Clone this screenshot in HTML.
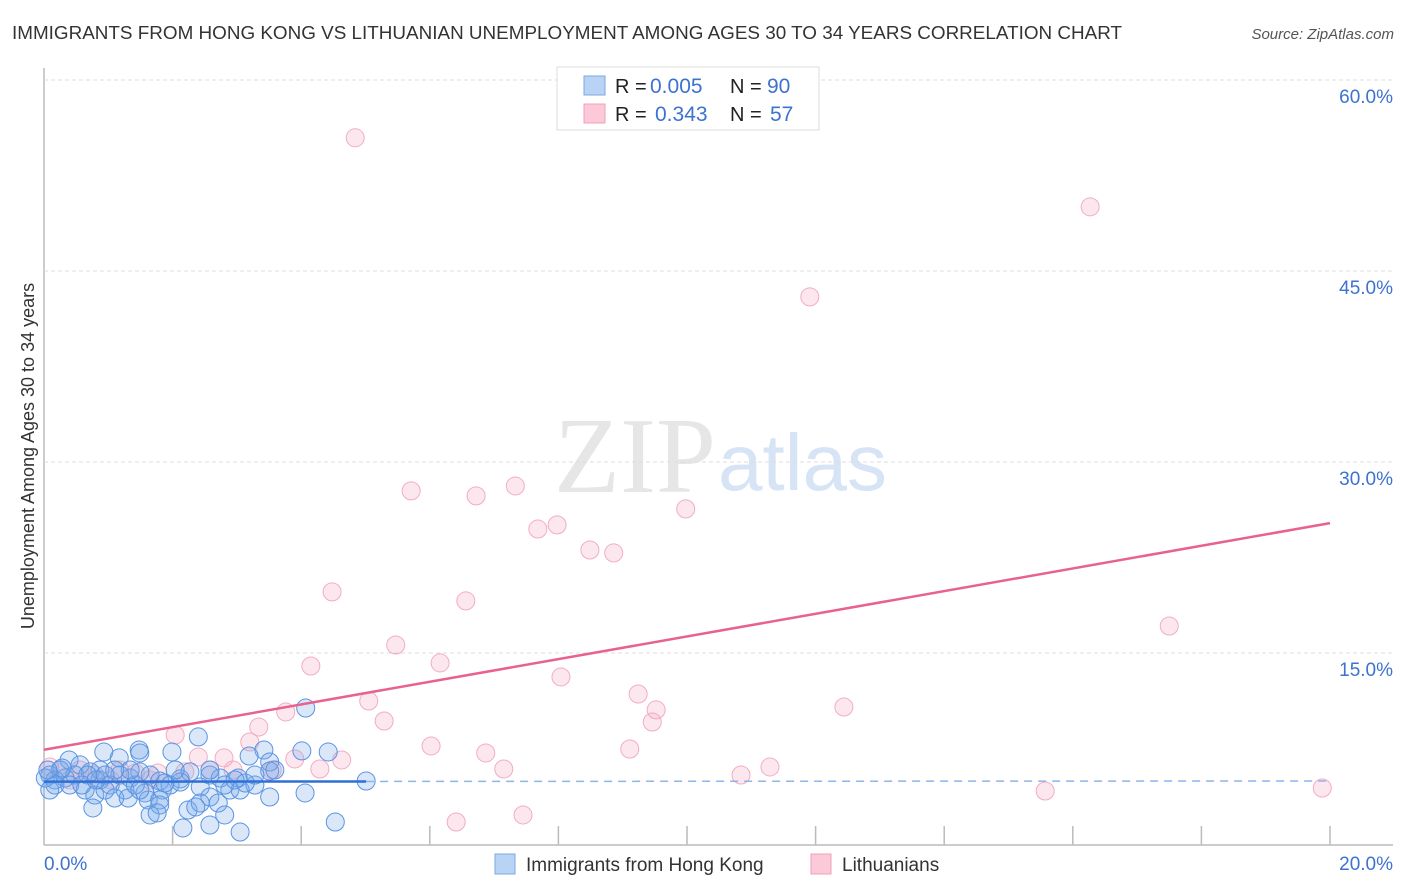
<!DOCTYPE html>
<html><head><meta charset="utf-8"><style>
body{margin:0;background:#fff;font-family:"Liberation Sans",sans-serif}
#c{position:absolute;left:0;top:0}
</style></head><body>
<svg id="c" width="1406" height="892" xmlns="http://www.w3.org/2000/svg">
<text x="12" y="39" font-size="18" fill="#333" textLength="1110" lengthAdjust="spacingAndGlyphs">IMMIGRANTS FROM HONG KONG VS LITHUANIAN UNEMPLOYMENT AMONG AGES 30 TO 34 YEARS CORRELATION CHART</text>
<text x="1394" y="39" font-size="15" fill="#555" text-anchor="end" font-style="italic">Source: ZipAtlas.com</text>
<text x="716" y="492" font-size="108" fill="#e6e6e6" text-anchor="end" font-family="Liberation Serif,serif">ZIP</text>
<text x="718" y="490" font-size="80" fill="#d6e4f5">atlas</text>
<g id="grid"></g>
<g id="pts"></g>
<g id="lines"></g>
<text transform="translate(34,456) rotate(-90)" font-size="18" fill="#333" text-anchor="middle">Unemployment Among Ages 30 to 34 years</text>
<text x="44" y="870" font-size="19" fill="#3d72d0">0.0%</text>
<text x="1393" y="870" font-size="19" fill="#3d72d0" text-anchor="end">20.0%</text>
<g>
<rect x="557" y="67" width="262" height="63" fill="#fff" stroke="#ddd"/>
<rect x="584" y="76" width="21" height="19" fill="#b8d3f4" stroke="#7aa8e4"/>
<rect x="584" y="104" width="21" height="19" fill="#fbc9d8" stroke="#f0a0b8"/>
<text x="615" y="93" font-size="20" fill="#222">R =</text>
<text x="650" y="93" font-size="21" fill="#3d72d0">0.005</text>
<text x="730" y="93" font-size="20" fill="#222">N =</text>
<text x="767" y="93" font-size="21" fill="#3d72d0">90</text>
<text x="615" y="121" font-size="20" fill="#222">R =</text>
<text x="655" y="121" font-size="21" fill="#3d72d0">0.343</text>
<text x="730" y="121" font-size="20" fill="#222">N =</text>
<text x="770" y="121" font-size="21" fill="#3d72d0">57</text>
</g>
<g>
<rect x="495" y="854" width="20" height="20" fill="#b8d3f4" stroke="#7aa8e4"/>
<text x="526" y="871" font-size="19" fill="#333">Immigrants from Hong Kong</text>
<rect x="811" y="854" width="20" height="20" fill="#fbc9d8" stroke="#f0a0b8"/>
<text x="842" y="871" font-size="19" fill="#333">Lithuanians</text>
</g>
</svg>
<script>
const yTicks=[15,30,45,60];
const xTickVals=[2,4,6,8,10,12,14,16,18,20];
const pinkX=[4.84,16.27,11.91,5.71,6.72,7.33,9.98,7.68,7.98,8.49,8.86,4.48,6.56,17.50,5.47,6.16,4.15,8.04,9.24,5.05,9.52,9.46,12.44,5.29,3.76,3.34,6.02,6.87,9.11,2.04,3.20,2.40,2.80,3.90,4.29,4.63,7.15,11.29,10.84,15.57,19.88,6.41,7.45,2.94,1.77,1.42,0.79,0.25,0.09,0.40,1.03,2.19,2.58,3.55,1.65,1.18,0.56];
const pinkY=[55.46,50.04,42.97,27.73,27.34,28.12,26.32,24.74,25.06,23.09,22.86,19.80,19.09,17.12,15.63,14.22,13.98,13.12,11.78,11.23,10.53,9.58,10.76,9.66,10.37,9.19,7.70,7.15,7.46,8.56,8.01,6.83,6.76,6.68,5.89,6.60,5.89,6.05,5.42,4.16,4.40,1.73,2.28,5.81,5.58,5.58,5.42,5.81,6.05,5.03,5.03,5.66,5.81,5.81,5.03,5.81,5.81];
const blueX=[4.07,2.40,3.42,1.48,0.93,1.99,4.01,4.42,1.49,3.19,3.51,0.39,1.17,0.56,0.25,0.09,0.17,0.02,0.33,0.48,0.72,0.87,1.03,1.34,1.65,1.80,2.12,2.27,2.58,2.74,3.02,2.89,3.05,3.28,3.51,5.01,0.64,0.79,0.95,1.26,1.10,1.31,1.57,1.84,1.96,2.43,2.81,3.13,0.17,0.76,1.62,1.80,1.80,2.24,2.43,2.58,2.71,3.51,4.06,2.12,1.18,1.42,0.40,1.88,1.65,1.76,2.16,2.58,3.05,4.53,2.81,2.36,2.97,1.49,0.87,2.04,1.34,1.10,0.68,0.28,0.06,2.58,3.28,3.59,0.59,0.81,1.49,0.95,0.09];
const blueY=[10.68,8.41,7.38,7.38,7.23,7.23,7.31,7.23,7.15,6.91,6.44,6.60,6.76,6.21,5.81,5.42,5.03,5.18,5.18,5.42,5.66,5.03,4.63,5.18,5.42,4.95,5.11,5.66,5.42,5.18,5.18,4.24,4.24,4.63,5.73,4.95,4.24,3.85,4.24,4.24,3.61,3.61,4.01,4.24,4.63,4.48,4.63,4.79,4.63,2.83,3.46,3.46,3.06,2.67,3.22,3.69,3.22,3.69,4.01,4.87,5.42,4.63,4.63,4.79,2.28,2.44,1.26,1.49,0.94,1.73,2.28,2.91,5.03,5.66,5.81,5.81,5.81,5.81,5.42,5.97,5.81,5.81,5.42,5.81,4.63,5.03,4.24,5.42,4.24];
const pinkFit=[7.4,25.2];
const blueFit=[4.9,4.95];
const X=v=>44+v*(1286/20), Y=v=>844-v*(191/15);
const NS='http://www.w3.org/2000/svg';
function mk(t,a,p){const e=document.createElementNS(NS,t);for(const k in a)e.setAttribute(k,a[k]);p.appendChild(e);return e;}
const g=document.getElementById('grid');
let ax=mk('line',{x1:44,y1:68,x2:44,y2:845,stroke:'#bbb','stroke-width':1.5},g);


let bx=mk('line',{x1:44,y1:845,x2:1393,y2:845,stroke:'#bbb','stroke-width':1.5},g);


yTicks.forEach(v=>{
 const l=mk('line',{x1:44,y1:Y(v),x2:1393,y2:Y(v),stroke:'#ddd','stroke-dasharray':'4,3'},g);
 
 
 const t=mk('text',{x:1393,y:Y(v)+23,'font-size':19,fill:'#3d72d0','text-anchor':'end'},g);
 t.textContent=v.toFixed(1)+'%';
 
 
});
xTickVals.forEach(v=>{
 const l=mk('line',{x1:X(v),y1:826,x2:X(v),y2:845,stroke:'#bbb','stroke-width':1.5},g);
 
 
});
const p=document.getElementById('pts');
pinkX.forEach((x,i)=>{
 const c=mk('circle',{cx:X(x),cy:Y(pinkY[i]),r:9,fill:'rgba(245,160,190,0.25)',stroke:'#f2adc2','stroke-width':1},p);
 
 
});
blueX.forEach((x,i)=>{
 const c=mk('circle',{cx:X(x),cy:Y(blueY[i]),r:9,fill:'rgba(120,170,235,0.28)',stroke:'#5a94e2','stroke-width':1},p);
 
 
});
const L=document.getElementById('lines');
const pl=mk('line',{x1:X(0),y1:Y(pinkFit[0]),x2:X(20),y2:Y(pinkFit[1]),stroke:'#e8628e','stroke-width':2.5},L);


const bxe=5.01;
const bl=mk('line',{x1:X(0),y1:Y(blueFit[0]),x2:X(bxe),y2:Y(blueFit[0]+(blueFit[1]-blueFit[0])*bxe/20),stroke:'#2f6fd6','stroke-width':2.5},L);


const bd=mk('line',{x1:X(bxe),y1:Y(blueFit[0]+(blueFit[1]-blueFit[0])*bxe/20),x2:X(20),y2:Y(blueFit[1]),stroke:'#8fb4e8','stroke-width':1.5,'stroke-dasharray':'8,6'},L);


</script>
</body></html>
